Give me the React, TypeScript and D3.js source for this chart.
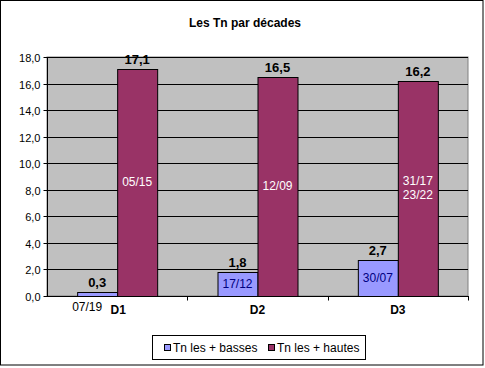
import React, { useRef, useEffect } from 'react'
import * as d3 from 'd3'

const decades = ['D1', 'D2', 'D3']
const basses = [0.3, 1.8, 2.7]
const hautes = [17.1, 16.5, 16.2]
const bassesDates = ['07/19', '17/12', '30/07']
const hautesDates = [['05/15'], ['12/09'], ['31/17', '23/22']]
const seriesNames = ['Tn les + basses', 'Tn les + hautes']
const yTicks = [0, 2, 4, 6, 8, 10, 12, 14, 16, 18]

const W = 485,
	H = 368
const plot = { left: 47, right: 468, top: 57, bottom: 296 }
const colors = ['#9999FF', '#993366']
const font = '"Liberation Sans", Arial, sans-serif'
const fmt = (v: number) => v.toFixed(1).replace('.', ',')

const App = () => {
	const svgRef = useRef<SVGSVGElement | null>(null)

	useEffect(() => {
		const svg = d3.select(svgRef.current)
		svg.selectAll('*').remove()
		svg.attr('font-family', font)

		const x = d3.scaleBand().domain(decades).range([plot.left, plot.right])
		const y = d3.scaleLinear().domain([0, 18]).range([plot.bottom, plot.top])
		const barW = 40

		// outer frame
		svg
			.append('rect')
			.attr('x', 0.5)
			.attr('y', 0.5)
			.attr('width', W - 2.5)
			.attr('height', H - 3.5)
			.attr('fill', 'white')
			.attr('stroke', 'black')

		svg
			.append('text')
			.attr('x', 245)
			.attr('y', 27)
			.attr('text-anchor', 'middle')
			.attr('font-size', 12)
			.attr('font-weight', 'bold')
			.text('Les Tn par décades')

		// plot background
		svg
			.append('rect')
			.attr('x', plot.left)
			.attr('y', plot.top)
			.attr('width', plot.right - plot.left)
			.attr('height', plot.bottom - plot.top)
			.attr('fill', '#C0C0C0')
			.attr('stroke', '#808080')

		// gridlines
		svg
			.selectAll('line.grid')
			.data(yTicks.slice(1))
			.enter()
			.append('line')
			.attr('x1', plot.left)
			.attr('x2', plot.right)
			.attr('y1', (d) => Math.round(y(d)) + 0.5)
			.attr('y2', (d) => Math.round(y(d)) + 0.5)
			.attr('stroke', 'black')

		// y axis
		const yAxis = svg.append('g').attr('transform', `translate(${plot.left + 0.5},0)`)
		yAxis.append('line').attr('y1', plot.top).attr('y2', plot.bottom).attr('stroke', 'black')
		yTicks.forEach((t) => {
			const yy = Math.round(y(t)) + 0.5
			yAxis.append('line').attr('x1', -4).attr('x2', 0).attr('y1', yy).attr('y2', yy).attr('stroke', 'black')
			yAxis
				.append('text')
				.attr('x', -7)
				.attr('y', yy + 4)
				.attr('text-anchor', 'end')
				.attr('font-size', 11)
				.text(fmt(t))
		})

		const groups = svg
			.selectAll('g.dec')
			.data(decades)
			.enter()
			.append('g')
			.attr('class', 'dec')

		// bars
		groups.each(function (d, i) {
			const g = d3.select(this)
			const cx = x(d)! + x.bandwidth() / 2
			const vals = [basses[i], hautes[i]]
			vals.forEach((v, s) => {
				const bx = cx - barW + s * barW
				g.append('rect')
					.attr('x', bx + 0.5)
					.attr('y', Math.round(y(v)) + 0.5)
					.attr('width', barW)
					.attr('height', plot.bottom - Math.round(y(v)))
					.attr('fill', colors[s])
					.attr('stroke', 'black')
				g.append('text')
					.attr('x', bx + barW / 2)
					.attr('y', y(v) - 5)
					.attr('text-anchor', 'middle')
					.attr('font-size', 13)
					.attr('font-weight', 'bold')
					.text(fmt(v))
			})
			// blue labels
			const by = y(basses[i])
			const bh = plot.bottom - by
			const bt = g
				.append('text')
				.attr('x', cx - barW / 2)
				.attr('text-anchor', 'middle')
				.attr('font-size', 12)
				.attr('fill', '#000080')
				.text(bassesDates[i])
			if (bh < 14) bt.attr('x', cx - barW / 2 - 10).attr('y', plot.bottom + 15).attr('fill', 'black')
			else bt.attr('y', by + bh / 2 + 4)
			// purple labels
			const hy = y(hautes[i])
			const mid = (hy + plot.bottom) / 2
			const lines = hautesDates[i]
			lines.forEach((l, k) => {
				g.append('text')
					.attr('x', cx + barW / 2)
					.attr('y', mid + 4 + (k - (lines.length - 1) / 2) * 14)
					.attr('text-anchor', 'middle')
					.attr('font-size', 12)
					.attr('fill', 'white')
					.text(l)
			})
		})

		// x axis
		const xAxis = svg.append('g').attr('transform', `translate(0,${plot.bottom + 0.5})`)
		xAxis.append('line').attr('x1', plot.left).attr('x2', plot.right + 1).attr('stroke', 'black')
		decades.forEach((d, i) => {
			const tx = Math.round(x(d)! + x.bandwidth()) + 0.5
			xAxis.append('line').attr('x1', tx).attr('x2', tx).attr('y1', 0).attr('y2', 4).attr('stroke', 'black')
			xAxis
				.append('text')
				.attr('x', x(d)! + x.bandwidth() / 2 + (i === 0 ? 1 : 0))
				.attr('y', 17)
				.attr('text-anchor', 'middle')
				.attr('font-size', 12)
				.attr('font-weight', 'bold')
				.text(d)
		})

		// legend
		const lg = svg.append('g')
		lg.append('rect')
			.attr('x', 152.5)
			.attr('y', 335.5)
			.attr('width', 213)
			.attr('height', 24)
			.attr('fill', 'white')
			.attr('stroke', 'black')
		const lx = [164, 268]
		seriesNames.forEach((n, s) => {
			lg.append('rect')
				.attr('x', lx[s] + 0.5)
				.attr('y', 344.5)
				.attr('width', 6)
				.attr('height', 6)
				.attr('fill', colors[s])
				.attr('stroke', 'black')
			lg.append('text')
				.attr('x', lx[s] + 9)
				.attr('y', 352)
				.attr('font-size', 12)
				.text(n)
		})
	}, [])

	return (
		<div style={{ position: 'fixed', left: 0, top: 0 }}>
			<svg ref={svgRef} width={W} height={H} style={{ display: 'block' }}></svg>
		</div>
	)
}

export default App
